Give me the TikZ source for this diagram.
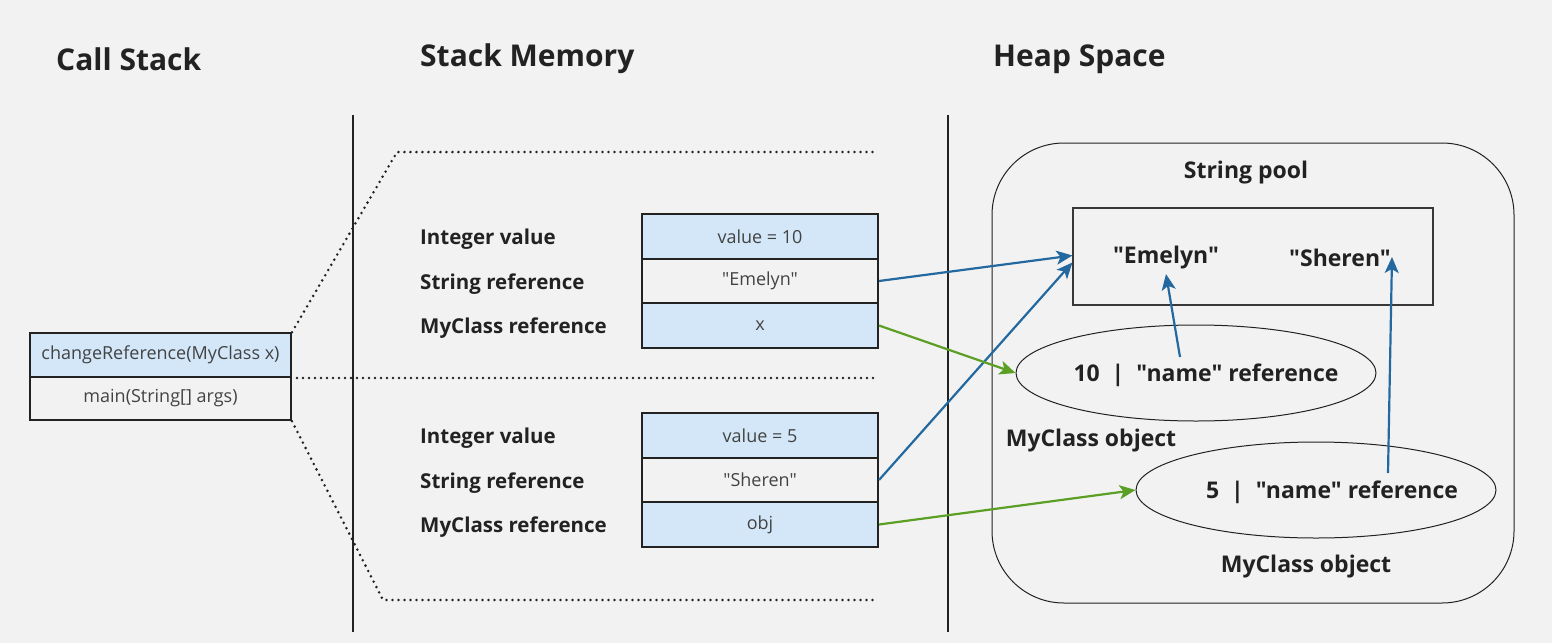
\documentclass[tikz,border=0pt]{standalone}
\usepackage{fontspec}
\setmainfont{Open Sans}[Ligatures=TeXOff]
\usetikzlibrary{arrows.meta,shapes.geometric}
\definecolor{bg}{HTML}{F2F2F2}
\definecolor{cellblue}{HTML}{D3E7F8}
\definecolor{arrblue}{HTML}{2369A0}
\definecolor{arrgreen}{HTML}{5B9F24}
\definecolor{ink}{HTML}{222222}
\newcommand\qq{\char34\relax}
\begin{document}
\begin{tikzpicture}[x=1pt,y=-1pt,
  heading/.style={anchor=west,font=\fontsize{30}{36}\selectfont\bfseries,text=ink,inner sep=0},
  lbl/.style={anchor=west,font=\fontsize{20.5}{24}\selectfont\bfseries,text=ink,inner sep=0},
  bold/.style={font=\fontsize{23}{28}\selectfont\bfseries,text=ink,inner sep=0},
  cell/.style={draw=ink,line width=2pt,minimum width=236pt,minimum height=44.5pt,inner sep=0,
    font=\fontsize{18}{22}\selectfont,text=ink!85},
  cscell/.style={cell,minimum width=261pt,minimum height=43.5pt},
  bluecell/.style={fill=cellblue},
  dots/.style={line width=2.8pt,dash pattern=on 0pt off 6pt,line cap=round,draw=ink},
  sep/.style={line width=1.2pt,draw=ink},
  barrow/.style={draw=arrblue,line width=2.2pt,-{Stealth[length=16pt,width=14pt,inset=4pt]}},
  garrow/.style={draw=arrgreen,line width=2.2pt,-{Stealth[length=16pt,width=14pt,inset=4pt]}},
  ell/.style={draw=ink,line width=1pt,ellipse,minimum width=360pt,minimum height=96pt,inner sep=0}
]
\fill[bg] (0,0) rectangle (1552,643);
\useasboundingbox (0,0) rectangle (1552,643);

% headings
\node[heading] (h1) at (56,59) {Call Stack};
\node[heading] (h2) at (420,59) {Stack Memory};
\node[heading] (h3) at (993,59) {Heap Space};

% separators
\coordinate (v1t) at (353,115); \coordinate (v1b) at (353,632);
\coordinate (v2t) at (948,115); \coordinate (v2b) at (948,632);
\draw[sep] (v1t) -- (v1b);
\draw[sep] (v2t) -- (v2b);

% call stack
\node[cscell,bluecell] (cs1) at (160.5,355) {changeReference(MyClass x)};
\node[cscell] (cs2) at (160.5,398.5) {main(String[] args)};

% stack frames
\node[cell,bluecell] (s1a) at (760,236.5) {value = 10};
\node[cell] (s1b) at (760,281) {\qq Emelyn\qq};
\node[cell,bluecell] (s1c) at (760,325.5) {x};
\node[cell,bluecell] (s2a) at (760,435.5) {value = 5};
\node[cell] (s2b) at (760,480) {\qq Sheren\qq};
\node[cell,bluecell] (s2c) at (760,524.5) {obj};

\node[lbl] (l1a) at (420,239) {Integer value};
\node[lbl] (l1b) at (420,284) {String reference};
\node[lbl] (l1c) at (420,328) {MyClass reference};
\node[lbl] (l2a) at (420,438) {Integer value};
\node[lbl] (l2b) at (420,483) {String reference};
\node[lbl] (l2c) at (420,527) {MyClass reference};

% dotted zoom lines
\coordinate (d1) at (397,152); \coordinate (d1e) at (878,152);
\coordinate (d2s) at (297,378); \coordinate (d2e) at (878,378);
\coordinate (d3) at (383,600); \coordinate (d3e) at (878,600);
\draw[dots] (cs1.north east) -- (d1) -- (d1e);
\draw[dots] (d2s) -- (d2e);
\draw[dots] (cs2.south east) -- (d3) -- (d3e);

% heap
\node[draw=ink,line width=1pt,rounded corners=72pt,minimum width=522pt,minimum height=460pt] (heap) at (1253,373) {};
\node[bold] (sp) at (1246,173) {String pool};
\node[draw=ink!90,line width=1.2pt,minimum width=360pt,minimum height=97pt] (pool) at (1253,256.5) {};
\node[bold] (em) at (1166,258) {\qq Emelyn\qq};
\node[bold] (sh) at (1340,258) {\qq Sheren\qq};

\node[ell] (e1) at (1196,373) {};
\node[bold] (t1) at (1206,375) {10\ \ |\ \ \qq name\qq\ reference};
\node[bold] (o1) at (1091,441) {MyClass object};
\node[ell] (e2) at (1316,490) {};
\node[bold] (t2) at (1332,492) {5\ \ |\ \ \qq name\qq\ reference};
\node[bold] (o2) at (1306,567) {MyClass object};

% arrows
\coordinate (r1s) at (1180,357); \coordinate (r1e) at (1166,274);
\coordinate (r2s) at (1388,473); \coordinate (r2e) at (1392,257);
\draw[barrow] (s1b.east) -- ([yshift=1pt]pool.west);
\draw[barrow] (s2b.east) -- ([yshift=-6pt]pool.west);
\draw[garrow] (s1c.east) -- (e1.west);
\draw[garrow] (s2c.east) -- (e2.west);
\draw[barrow] (r1s) -- (r1e);
\draw[barrow] (r2s) -- (r2e);
\end{tikzpicture}
\end{document}
